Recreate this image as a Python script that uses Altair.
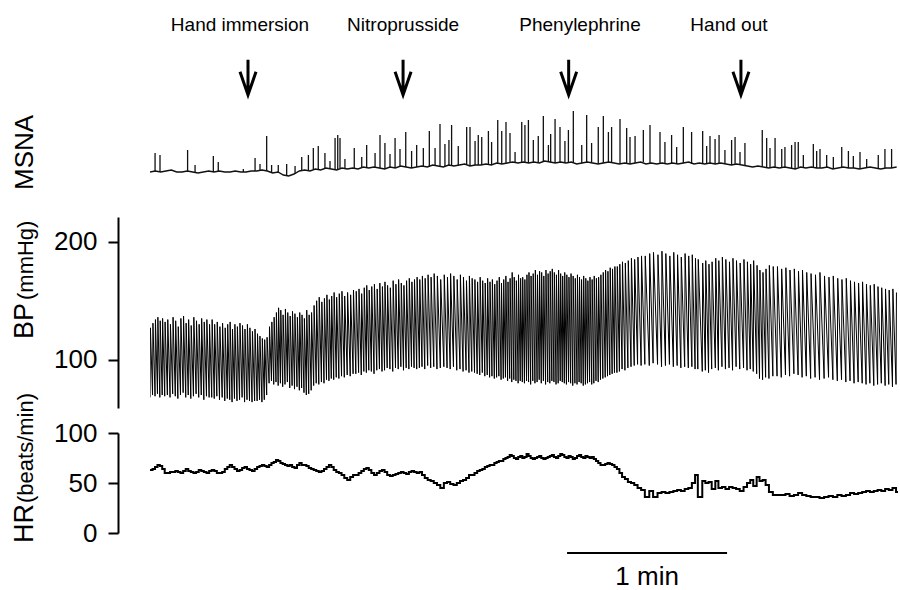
import altair as alt
import pandas as pd

FONT = "Liberation Sans"

# ---------------- data ----------------
# beat-by-beat heart rate (beats/min)
HR = [63,64,66,68,67,64,60,
      60,61,61,62,61,60,62,64,62,61,60,61,63,62,61,60,62,
      63,62,60,60,61,64,66,68,66,64,62,63,65,66,64,63,62,64,
      66,67,68,67,66,68,70,71,73,72,70,69,68,67,68,66,65,68,70,68,
      68,67,65,64,63,62,61,62,64,66,68,66,63,61,60,58,55,53,56,58,
      58,60,62,64,65,63,60,58,60,62,63,61,58,57,58,59,60,61,60,59,61,62,61,60,
      61,58,55,53,52,50,48,45,50,
      51,49,48,50,52,53,55,58,58,
      60,62,63,64,66,67,68,68,70,71,72,72,74,75,76,78,77,75,74,76,77,
      75,76,79,77,75,74,75,76,77,75,74,75,76,77,78,76,75,77,79,78,76,75,77,76,74,
      75,77,78,76,75,77,76,75,76,74,72,70,68,68,69,70,69,68,66,
      64,60,56,54,51,50,48,45,43,
      36,42,36,40,41,40,41,42,43,42,44,45,50,58,
      36,52,50,51,44,52,45,46,44,46,45,44,42,46,50,53,47,56,52,53,48,41,38,
      38,38,39,37,38,40,38,37,36,36,35,36,37,36,38,37,38,40,39,40,41,42,41,42,43,42,44,43,45,41]

# beat-by-beat systolic pressure (mmHg)
SYS = [127,131,134,136,133,135,132,
       134,130,136,133,128,135,137,131,134,129,136,133,130,135,132,134,130,
       134,130,132,128,131,127,130,132,126,130,128,131,129,126,130,127,124,126,
       122,120,118,117,119,128,132,136,140,144,142,138,143,140,137,141,139,136,140,138,
       135,142,138,140,146,150,153,149,152,155,151,154,157,153,156,158,154,157,155,159,
       158,160,156,161,163,159,162,164,160,165,162,166,163,161,167,164,168,165,163,167,169,166,168,170,
       168,171,169,172,170,173,171,168,172,
       170,173,171,168,172,170,167,171,169,
       168,166,170,167,165,169,166,168,164,167,170,165,168,171,166,169,174,170,167,172,169,
       170,168,172,174,171,173,176,172,175,174,171,176,173,175,177,174,172,176,173,171,
       174,172,170,173,171,169,172,170,168,171,169,167,170,168,171,169,170,172,174,176,
       175,178,177,179,
       179,181,183,182,184,186,185,187,188,
       188,190,191,189,192,190,188,191,189,187,190,188,189,186,
       185,182,184,181,183,186,184,187,185,183,186,184,182,185,183,181,184,180,176,174,177,180,179,
       179,177,178,176,177,175,176,174,173,172,174,171,170,171,169,168,169,167,166,165,166,164,163,164,162,161,160,159,160,157]

# beat-by-beat diastolic pressure (mmHg)
DIA = [68,70,69,71,68,70,69,
       70,68,71,69,67,70,72,68,70,67,69,71,68,70,66,69,68,
       68,67,69,66,68,65,67,66,64,67,65,66,68,64,66,65,64,65,
       65,66,64,66,70,80,82,79,81,78,80,77,79,81,76,78,75,77,74,76,
       72,70,71,74,78,80,79,81,80,83,82,84,83,85,84,86,85,87,86,88,
       88,89,87,90,89,91,90,88,91,92,90,91,93,92,90,93,92,94,91,93,92,94,93,92,
       93,94,92,95,93,94,92,93,94,
       93,92,94,91,92,90,91,89,90,
       89,88,87,89,86,87,85,86,84,85,86,83,84,85,82,84,81,83,82,80,82,
       81,80,82,81,79,82,80,81,83,80,82,79,81,80,82,81,79,80,82,81,
       80,79,81,80,78,80,79,81,80,78,79,80,81,79,80,82,81,83,84,85,
       86,87,88,89,
       89,90,92,91,93,94,95,96,95,
       96,95,97,96,94,95,96,94,95,93,94,93,94,92,
       92,90,91,89,92,93,91,94,92,93,91,94,92,93,91,92,90,88,84,83,85,84,86,
       86,85,87,86,88,87,85,86,84,85,83,84,85,83,82,83,81,82,80,81,80,79,80,78,79,80,78,79,77,79]

# MSNA baseline level (arbitrary units), one sample every 2 s
MSNA_STEP = 2.0
MSNA_BASE = [8,9,8,9,10,8,8,9,8,7,8,9,8,9,8,8,9,8,8,9,9,
             10,9,7,8,5,4,6,
             9,10,9,11,10,12,11,10,12,11,
             12,11,13,12,13,12,11,13,12,14,13,12,
             13,14,13,15,14,13,15,14,15,16,14,15,
             15,16,15,17,16,17,18,17,
             18,17,18,17,19,18,17,18,17,18,16,17,18,
             17,16,17,18,17,16,17,16,17,18,16,17,16,17,16,17,16,17,18,16,17,16,
             17,16,17,16,15,16,15,14,13,14,
             13,12,13,12,13,12,11,13,12,13,12,12,13,11,12,13,12,12,11,12,13,12,11,12,12,13]

# MSNA bursts: time (s) and height above baseline (arbitrary units)
SPIKE_T = [1.9,3.75,14.1,16.9,23.75,25.6,35,39.4,41.25,43.75,
           45.6,48.1,51.25,54.4,56.9,59.4,61.25,63.1,65.6,67.5,
           69.4,70.4,71.25,73.1,76.6,79.4,81.25,84.4,86.25,88.1,
           90,91.9,93.75,95.9,98.1,100,102.5,104.75,106.9,108.75,
           110.6,112.1,113.1,115.6,118.75,120,121.9,123.1,124.4,126.9,
           128.1,130.4,131.9,133.5,135,136.9,
           139.4,140.6,141.9,143.75,145.6,147.5,149.4,150.25,151.9,153.75,
           155.6,156.9,158.75,161.9,163.75,165.6,168.1,170,171.9,173.1,
           176.25,178.75,180,181.9,185,187.5,
           191.25,193.1,195.6,197.5,200,203.1,207.25,208.75,210,211.9,
           213.4,215.6,218.1,219.4,221.25,223.1,229.6,231.25,232.5,234.4,
           236.9,238.1,240.6,241.9,243.1,245,
           248.75,250,251.25,253.75,256.25,259.4,261.9,263.75,266.25,268.75,273.1,275.6,278.1]
SPIKE_H = [18,17,21,7,16,9,3,13,6,35,
           8,7,12,8,14,16,21,24,15,8,
           32,35,30,10,20,10,23,14,33,26,
           13,30,17,35,17,22,18,36,17,42,
           23,25,41,19,37,39,24,30,28,33,
           23,43,33,41,29,10,
           40,37,43,22,27,45,17,28,44,35,
           22,33,51,18,47,20,37,47,30,36,
           45,35,27,27,32,38,
           31,22,28,17,36,32,33,18,27,25,
           28,14,25,27,13,23,37,30,20,29,
           19,20,23,27,25,12,
           23,17,19,12,12,20,17,12,17,9,14,19,19]

EVENT_NAMES = ["Hand immersion", "Nitroprusside", "Phenylephrine", "Hand out"]
EVENT_T = [36.75, 94.9, 157.0, 221.6]      # arrow times (s)
LABEL_T = [33.75, 94.9, 161.25, 217.1]     # label centres (s)

SCALE_START = 156.4   # s
SCALE_LEN = 60.0      # 1 min

T_END = 280.5

# ---------------- build tables ----------------
n = min(len(HR), len(SYS), len(DIA))
times = []
t = 0.0
for i in range(n):
    times.append(t)
    t += 60.0 / HR[i]

bp_rows = []
for i in range(n):
    bp_rows.append({"t": times[i], "v": DIA[i]})
    bp_rows.append({"t": times[i] + 0.15, "v": SYS[i]})
bp_df = pd.DataFrame(bp_rows)

hr_rows = [{"t": times[i], "v": HR[i]} for i in range(n)]
hr_rows.append({"t": t, "v": HR[n - 1]})
hr_df = pd.DataFrame(hr_rows)

base_df = pd.DataFrame({"t": [k * MSNA_STEP for k in range(len(MSNA_BASE))], "v": MSNA_BASE})
sp_rows = []
for st, sh in zip(SPIKE_T, SPIKE_H):
    k = min(len(MSNA_BASE) - 1, int(round(st / MSNA_STEP)))
    b = MSNA_BASE[k]
    sp_rows.append({"t": st, "base": b, "top": b + sh})
sp_df = pd.DataFrame(sp_rows)

ev_df = pd.DataFrame({"t": EVENT_T})
lab_df = pd.DataFrame({"t": LABEL_T, "name": EVENT_NAMES})
sb_df = pd.DataFrame({"t": [SCALE_START], "t2": [SCALE_START + SCALE_LEN],
                      "mid": [SCALE_START + SCALE_LEN / 2], "txt": ["1 min"]})

# ---------------- scales ----------------
XS = alt.Scale(domain=[0, T_END], nice=False, zero=False)
MS = alt.Scale(domain=[0, 100], range=[180, 80], nice=False, zero=False)
BPS = alt.Scale(domain=[59, 221], range=[408, 217], nice=False, zero=False)
HRS = alt.Scale(domain=[0, 100], range=[533, 433], nice=False, zero=False)

def yaxis(vals):
    return alt.Axis(values=vals, orient="left", offset=32, title=None, grid=False,
                    tickSize=10, tickWidth=2, tickColor="black",
                    domainWidth=2, domainColor="black",
                    labelFont=FONT, labelFontSize=26, labelColor="black",
                    labelPadding=11)

X = alt.X("t:Q", scale=XS, axis=None)

msna_base = alt.Chart(base_df).mark_line(color="#111", strokeWidth=1.4, clip=True).encode(
    x=X, y=alt.Y("v:Q", scale=MS, axis=None))
msna_sp = alt.Chart(sp_df).mark_rule(color="#111", strokeWidth=1.3, clip=True).encode(
    x=X, y=alt.Y("top:Q", scale=MS, axis=None), y2="base:Q")

bp = alt.Chart(bp_df).mark_line(color="#000", strokeWidth=1.0, clip=True).encode(
    x=X, y=alt.Y("v:Q", scale=BPS, axis=yaxis([100, 200])))

hr = alt.Chart(hr_df).mark_line(color="black", strokeWidth=2, interpolate="step-after", clip=True).encode(
    x=X, y=alt.Y("v:Q", scale=HRS, axis=yaxis([0, 50, 100])))

ARROW = "M0,-4.4L0,-0.4M-1,-2.9L0,0L1,-2.9"
arrows = alt.Chart(ev_df).mark_point(shape=ARROW, size=256, filled=False, stroke="black",
                                     strokeWidth=3, opacity=1).encode(x=X, y=alt.value(95))
labels = alt.Chart(lab_df).mark_text(font=FONT, fontSize=19, align="center", baseline="alphabetic",
                                     color="black").encode(x=X, y=alt.value(31), text="name:N")

sbar = alt.Chart(sb_df).mark_rule(color="black", strokeWidth=2).encode(
    x=X, x2="t2:Q", y=alt.value(553))
stxt = alt.Chart(sb_df).mark_text(font=FONT, fontSize=26, align="center", baseline="alphabetic",
                                  color="black").encode(
    x=alt.X("mid:Q", scale=XS, axis=None), y=alt.value(585), text="txt:N")

def vlabel(text, ypx, size):
    return alt.Chart(pd.DataFrame({"s": [text]})).mark_text(
        text=text, font=FONT, fontSize=size, angle=270, align="left",
        baseline="alphabetic", color="black").encode(x=alt.value(-117), y=alt.value(ypx))

titles = [vlabel("MSNA", 190, 26),
          vlabel("BP", 339, 27), vlabel("(mmHg)", 300, 22),
          vlabel("HR", 543, 27), vlabel("(beats/min)", 503, 22)]

chart = alt.layer(msna_base, msna_sp, bp, hr, arrows, labels, sbar, stxt, *titles).resolve_scale(
    y="independent").properties(
    width=748, height=590,
    autosize=alt.AutoSizeParams(type="none"),
    padding={"left": 150, "top": 0, "right": 2, "bottom": 0},
    background="white",
).configure_view(stroke=None)

chart.save("out.html", embed_options={"renderer": "svg", "actions": False})
